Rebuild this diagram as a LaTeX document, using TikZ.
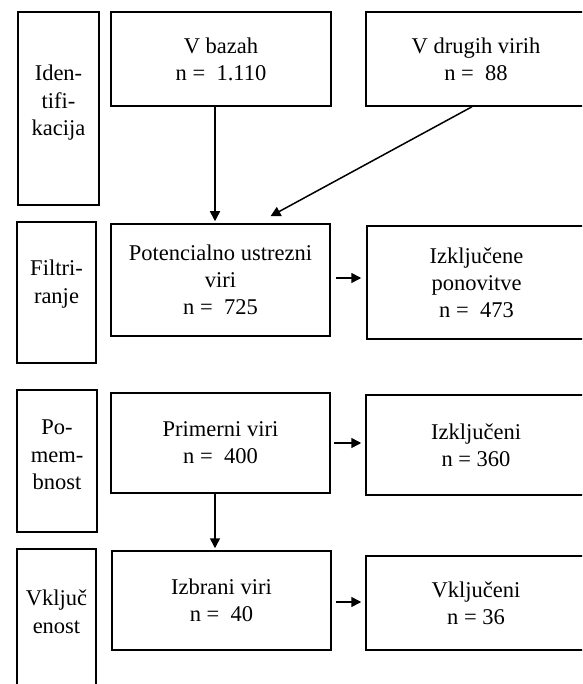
\documentclass[tikz,border=0pt]{standalone}
\usepackage{fontspec}
\setmainfont{Liberation Serif}
\usetikzlibrary{arrows.meta}
\begin{document}
\begin{tikzpicture}[x=1pt,y=-1pt,
  box/.style={draw=black,line width=1.5pt,rectangle,inner sep=0pt,align=center,
    font=\fontsize{22.5}{27}\selectfont},
  lbl/.style={inner sep=0pt,align=center,font=\fontsize{22.5}{27.5}\selectfont},
  arr/.style={line width=1.5pt,-{Triangle[length=10pt,width=10pt]}}]
\clip (0,0) rectangle (582,684);
\fill[white] (0,0) rectangle (582,684);
% stage boxes (left)
\node[box,minimum width=81pt,minimum height=193pt] (ident) at (58.5,108.5) {};
\node[lbl] (identT) at (58.5,103) {Iden-\\tifi-\\kacija};
\node[box,minimum width=79pt,minimum height=141pt] (filt) at (56.5,292.5) {};
\node[lbl] (filtT) at (56.5,284) {Filtri-\\ranje};
\node[box,minimum width=80pt,minimum height=142pt] (pomem) at (57,461) {};
\node[lbl] (pomemT) at (57,455) {Po-\\mem-\\bnost};
\node[box,minimum width=79pt,minimum height=151pt] (vkl) at (56.5,624.5) {};
\node[lbl] (vklT) at (56.5,612) {Vključ\\enost};
% main boxes
\node[box,minimum width=220pt,minimum height=94pt] (bazah) at (221,59) {V bazah\\n = \ 1.110};
\node[box,minimum width=220pt,minimum height=94pt] (drugih) at (476,59) {V drugih virih\\n = \ 88};
\node[box,minimum width=219pt,minimum height=112pt] (pot) at (220.5,280) {Potencialno ustrezni\\viri\\n = \ 725};
\node[box,minimum width=219pt,minimum height=113pt] (izkl1) at (476.5,282.5) {Izključene\\ponovitve\\n = \ 473};
\node[box,minimum width=219pt,minimum height=100pt] (prim) at (220.5,443) {Primerni viri\\n = \ 400};
\node[box,minimum width=220pt,minimum height=100pt] (izkl2) at (476,445) {Izključeni\\n = 360};
\node[box,minimum width=219pt,minimum height=99pt] (izbr) at (221.5,600.5) {Izbrani viri\\n = \ 40};
\node[box,minimum width=220pt,minimum height=94pt] (vklj) at (476,603) {Vključeni\\n = 36};
% connectors
\draw[arr] ([xshift=-6pt]bazah.south) -- ([xshift=-5.5pt,yshift=2pt]pot.north);
\draw[arr] ([xshift=-4pt]drugih.south) -- ([xshift=50pt,yshift=7pt]pot.north);
\draw[arr] ([xshift=5pt,yshift=2pt]pot.east) -- ([xshift=-5pt,yshift=2pt]pot.east -| izkl1.west);
\draw[arr] ([xshift=3pt]prim.east) -- ([xshift=-4pt]prim.east -| izkl2.west);
\draw[arr] ([xshift=-5.5pt]prim.south) -- ([xshift=-6.5pt,yshift=2pt]izbr.north);
\draw[arr] ([xshift=4pt,yshift=-1.5pt]izbr.east) -- ([xshift=-4pt,yshift=-1.5pt]izbr.east -| vklj.west);
\end{tikzpicture}
\end{document}
